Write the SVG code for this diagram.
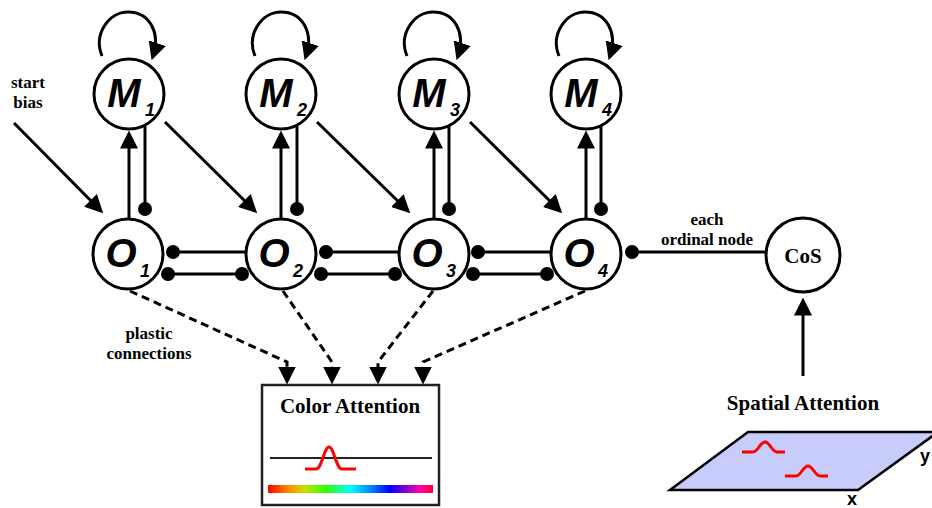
<svg xmlns="http://www.w3.org/2000/svg" width="932" height="508" viewBox="0 0 932 508">
<defs>
<marker id="ah" markerUnits="userSpaceOnUse" markerWidth="18" markerHeight="18" viewBox="0 0 16 16" refX="12" refY="8" orient="auto">
<path d="M0,0 L16,8 L0,16 z" fill="#000"/>
</marker>
<linearGradient id="spec" x1="0" y1="0" x2="1" y2="0">
<stop offset="0" stop-color="#ff0000"/>
<stop offset="0.12" stop-color="#ff8800"/>
<stop offset="0.22" stop-color="#c8e000"/>
<stop offset="0.35" stop-color="#33ff00"/>
<stop offset="0.5" stop-color="#00ffff"/>
<stop offset="0.62" stop-color="#0088ff"/>
<stop offset="0.74" stop-color="#0000ff"/>
<stop offset="0.85" stop-color="#9900cc"/>
<stop offset="0.92" stop-color="#ff00aa"/>
<stop offset="1" stop-color="#ff0033"/>
</linearGradient>
</defs>
<style>
.node{fill:#fff;stroke:#000;stroke-width:3}
.ln{fill:none;stroke:#000;stroke-width:3}
.dash{fill:none;stroke:#000;stroke-width:3;stroke-dasharray:8 5}
.dot{fill:#000}
.big{font-family:"Liberation Sans",Arial,sans-serif;font-weight:bold;font-style:italic;font-size:40px;fill:#000}
.sub{font-family:"Liberation Sans",Arial,sans-serif;font-weight:bold;font-style:italic;font-size:18px;fill:#000}
.lbl{font-family:"Liberation Serif","Times New Roman",serif;font-weight:bold;font-size:17px;fill:#000}
.hdr{font-family:"Liberation Serif","Times New Roman",serif;font-weight:bold;font-size:21px;fill:#000}
.ax{font-family:"Liberation Sans",Arial,sans-serif;font-weight:bold;font-size:18px;fill:#000}
.red{fill:none;stroke:#ff0000;stroke-width:3}
</style>
<rect width="932" height="508" fill="#fff"/>

<g id="connectors">
<path class="ln" marker-end="url(#ah)" d="M102,56 C93,34 109,12 128,12 C149,12 161,32 153,56"/>
<path class="ln" marker-end="url(#ah)" d="M255,56 C246,34 262,12 281,12 C302,12 314,32 306,56"/>
<path class="ln" marker-end="url(#ah)" d="M407,56 C398,34 414,12 433,12 C454,12 466,32 458,56"/>
<path class="ln" marker-end="url(#ah)" d="M559,56 C550,34 566,12 585,12 C606,12 618,32 610,56"/>
<path class="ln" marker-end="url(#ah)" d="M129,219 L129,135"/>
<path class="ln" marker-end="url(#ah)" d="M281,219 L281,135"/>
<path class="ln" marker-end="url(#ah)" d="M434,219 L434,135"/>
<path class="ln" marker-end="url(#ah)" d="M586,219 L586,135"/>
<path class="ln" d="M145,126 L145,209"/><circle class="dot" cx="145" cy="209" r="7"/>
<path class="ln" d="M297,126 L297,209"/><circle class="dot" cx="297" cy="209" r="7"/>
<path class="ln" d="M449,126 L449,209"/><circle class="dot" cx="449" cy="209" r="7"/>
<path class="ln" d="M601,126 L601,209"/><circle class="dot" cx="601" cy="209" r="7"/>
<path class="ln" marker-end="url(#ah)" d="M14,123 L100,210"/>
<path class="ln" marker-end="url(#ah)" d="M165,122 L254,210"/>
<path class="ln" marker-end="url(#ah)" d="M317,122 L407,210"/>
<path class="ln" marker-end="url(#ah)" d="M470,122 L559,210"/>
<path class="ln" d="M173,252 L246,252"/><circle class="dot" cx="173" cy="252" r="7"/>
<path class="ln" d="M168,274 L242,274"/><circle class="dot" cx="168" cy="274" r="7"/><circle class="dot" cx="242" cy="274" r="7"/>
<path class="ln" d="M326,252 L399,252"/><circle class="dot" cx="326" cy="252" r="7"/>
<path class="ln" d="M321,274 L395,274"/><circle class="dot" cx="321" cy="274" r="7"/><circle class="dot" cx="395" cy="274" r="7"/>
<path class="ln" d="M478,252 L551,252"/><circle class="dot" cx="478" cy="252" r="7"/>
<path class="ln" d="M473,274 L547,274"/><circle class="dot" cx="473" cy="274" r="7"/><circle class="dot" cx="547" cy="274" r="7"/>
<path class="ln" d="M632,252 L767,252"/><circle class="dot" cx="632" cy="252" r="7"/>
<path class="ln" marker-end="url(#ah)" d="M803,376 L803,302"/>
<path class="dash" marker-end="url(#ah)" d="M130,291 L287,362 L287,380"/>
<path class="dash" marker-end="url(#ah)" d="M283,291 L332,362 L332,380"/>
<path class="dash" marker-end="url(#ah)" d="M433,291 L378,362 L378,380"/>
<path class="dash" marker-end="url(#ah)" d="M585,291 L423,362 L423,380"/>
</g>

<g id="M1"><circle class="node" cx="129" cy="94" r="35"/><text class="big" x="124" y="107" text-anchor="middle">M</text><text class="sub" x="145" y="116">1</text></g>
<g id="M2"><circle class="node" cx="281" cy="94" r="35"/><text class="big" x="276" y="107" text-anchor="middle">M</text><text class="sub" x="297" y="116">2</text></g>
<g id="M3"><circle class="node" cx="434" cy="94" r="35"/><text class="big" x="429" y="107" text-anchor="middle">M</text><text class="sub" x="450" y="116">3</text></g>
<g id="M4"><circle class="node" cx="586" cy="94" r="35"/><text class="big" x="581" y="107" text-anchor="middle">M</text><text class="sub" x="602" y="116">4</text></g>

<g id="O1"><circle class="node" cx="128" cy="254" r="35"/><text class="big" x="121" y="267" text-anchor="middle">O</text><text class="sub" x="140" y="277">1</text></g>
<g id="O2"><circle class="node" cx="281" cy="254" r="35"/><text class="big" x="274" y="267" text-anchor="middle">O</text><text class="sub" x="293" y="277">2</text></g>
<g id="O3"><circle class="node" cx="434" cy="254" r="35"/><text class="big" x="427" y="267" text-anchor="middle">O</text><text class="sub" x="446" y="277">3</text></g>
<g id="O4"><circle class="node" cx="586" cy="254" r="35"/><text class="big" x="579" y="267" text-anchor="middle">O</text><text class="sub" x="598" y="277">4</text></g>

<g id="CoS"><circle class="node" cx="803" cy="255" r="37"/><text class="hdr" x="803" y="263" text-anchor="middle" font-size="22">CoS</text></g>

<g id="labels">
<text class="lbl" x="28" y="88" text-anchor="middle">start</text>
<text class="lbl" x="28" y="108" text-anchor="middle">bias</text>
<text class="lbl" x="707" y="225" text-anchor="middle">each</text>
<text class="lbl" x="707" y="245" text-anchor="middle">ordinal node</text>
<text class="lbl" x="149" y="339" text-anchor="middle">plastic</text>
<text class="lbl" x="149" y="359" text-anchor="middle">connections</text>
</g>

<g id="ColorAttention">
<rect x="262" y="385" width="177" height="120" fill="#fff" stroke="#222" stroke-width="2.5"/>
<text class="hdr" x="350" y="413" text-anchor="middle">Color Attention</text>
<path d="M270,458 L432,458" stroke="#222" stroke-width="2" fill="none"/>
<path class="red" d="M305,469 L316,469 C322,469 324,447 329,447 C334,447 336,469 342,469 L356,469"/>
<rect x="268" y="485" width="165" height="8" fill="url(#spec)"/>
</g>

<g id="SpatialAttention">
<text class="hdr" x="803" y="410" text-anchor="middle">Spatial Attention</text>
<polygon points="670,490 748,432 938,432 858,490" fill="#c8ccfa" stroke="#000" stroke-width="2.5"/>
<path class="red" d="M742,452 L753,452 C758,452 760,442 765,442 C770,442 772,452 777,452 L785,452"/>
<path class="red" d="M785,476 L796,476 C801,476 803,466 808,466 C813,466 815,476 820,476 L828,476"/>
<text class="ax" x="852" y="505" text-anchor="middle">x</text>
<text class="ax" x="920" y="462">y</text>
</g>
</svg>
